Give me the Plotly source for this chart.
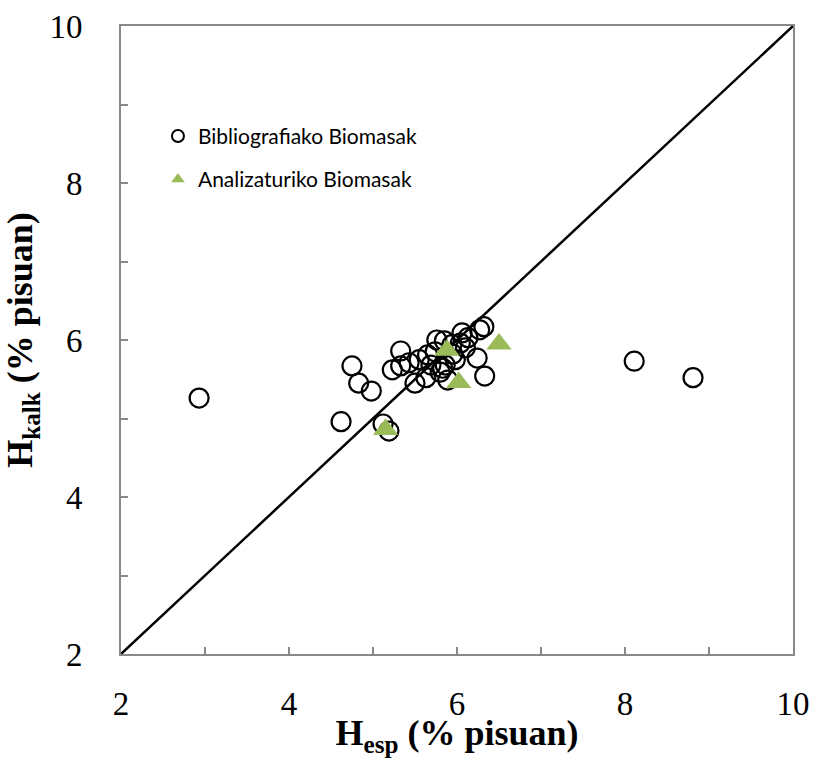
import plotly.graph_objects as go

# Bibliografiako Biomasak (H_esp, H_kalk)
biblio_x = [2.93, 4.62, 4.75, 4.83, 4.98, 5.12, 5.19, 5.23, 5.33, 5.33, 5.43, 5.50,
            5.63, 5.65, 5.69, 5.76, 5.80, 5.85, 5.89, 5.86, 5.94, 5.98, 6.04, 6.06,
            6.10, 6.13, 6.24, 6.27, 6.32, 6.33, 8.11, 8.81, 5.74, 5.83, 5.55, 5.95]
biblio_y = [5.26, 4.96, 5.67, 5.45, 5.35, 4.93, 4.84, 5.62, 5.86, 5.67, 5.71, 5.45,
            5.52, 5.81, 5.68, 6.00, 5.59, 5.99, 5.49, 5.68, 5.94, 5.75, 5.96, 6.09,
            5.90, 6.03, 5.77, 6.13, 6.17, 5.54, 5.73, 5.52, 5.85, 5.64, 5.75, 5.82]

# Analizaturiko Biomasak
anal_x = [5.15, 5.88, 6.02, 6.50]
anal_y = [4.86, 5.87, 5.46, 5.95]

# y = x reference line
line_x = [2, 10]
line_y = [2, 10]

axis_range = [2, 10]

fig = go.Figure()
fig.add_trace(go.Scatter(x=line_x, y=line_y, mode="lines",
                         line=dict(color="black", width=2.5), showlegend=False,
                         hoverinfo="skip"))
fig.add_trace(go.Scatter(x=biblio_x, y=biblio_y, mode="markers",
                         name="Bibliografiako Biomasak", legendgroup="a",
                         marker=dict(symbol="circle-open", size=19, color="black",
                                     line=dict(width=2.2, color="black"))))
fig.add_trace(go.Scatter(x=anal_x, y=anal_y, mode="markers",
                         name="Analizaturiko Biomasak", legendgroup="b",
                         marker=dict(symbol="triangle-up", size=22, color="#9BBB59",
                                     line=dict(width=0))))

axcommon = dict(range=axis_range, dtick=2, ticks="inside", ticklen=7, tickwidth=1.5,
                tickcolor="#888888", showline=True, linecolor="#888888", linewidth=2,
                mirror=True, showgrid=False, zeroline=False, automargin=False,
                minor=dict(dtick=1, ticks="inside", ticklen=7, tickwidth=1.5,
                           tickcolor="#888888", showgrid=False),
                tickfont=dict(family="Liberation Serif", size=33, color="black"))

fig.update_layout(
    width=813, height=758,
    margin=dict(l=121, r=20, t=26, b=104, autoexpand=False),
    plot_bgcolor="white", paper_bgcolor="white",
    xaxis=dict(**axcommon, ticklabelstandoff=19,
               title=dict(text="<b>H<sub>esp</sub> (% pisuan)</b>", standoff=0,
                          font=dict(family="Liberation Serif", size=36, color="black"))),
    yaxis=dict(**axcommon, ticklabelstandoff=30,
               title=dict(text="<b>H<sub>kalk</sub> (% pisuan)</b>", standoff=10,
                          font=dict(family="Liberation Serif", size=36, color="black"))),
    legend=dict(x=0.055, y=0.857, xanchor="left", yanchor="top",
                bgcolor="rgba(0,0,0,0)", tracegroupgap=13, itemwidth=30,
                itemsizing="constant",
                font=dict(family="Lato", size=21, color="black")),
)

fig.write_html("out.html", config={"displayModeBar": False},
               post_script="document.body.style.margin='0';document.body.style.overflow='hidden';")
